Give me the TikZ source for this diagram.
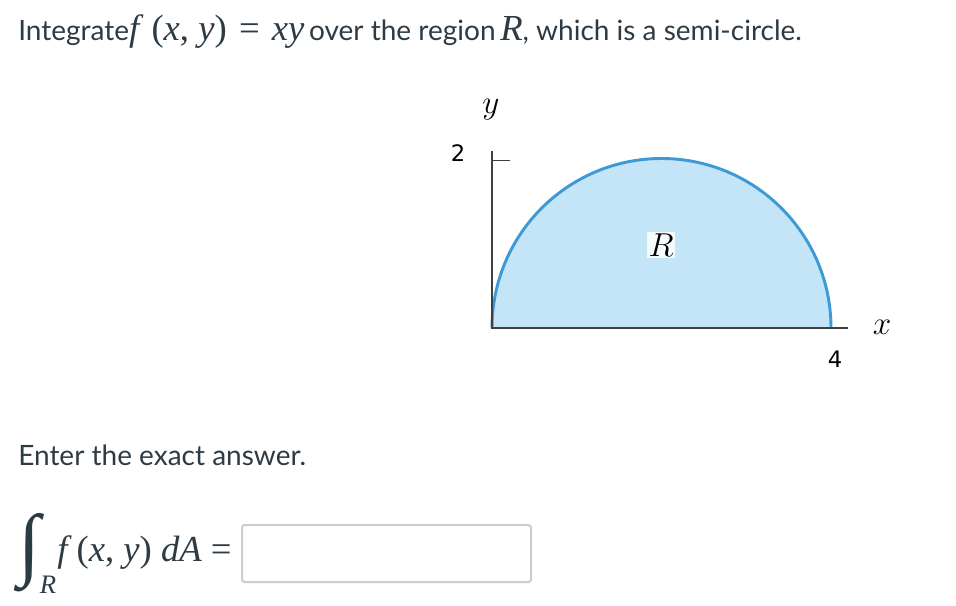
\documentclass[tikz,border=0pt]{standalone}
\usepackage{fontspec}
\setmainfont{Lato}
\newfontfamily\tmsfont{Liberation Serif}
\newfontfamily\numfont{DejaVu Sans}
\newcommand{\mathsz}{\fontsize{27.5}{30}\selectfont}
\newcommand{\tit}[1]{{\tmsfont\mathsz\itshape #1}}
\newcommand{\trm}[1]{{\tmsfont\mathsz #1}}
\definecolor{canvasgray}{HTML}{2D3B45}
\definecolor{regionfill}{HTML}{C4E4F7}
\definecolor{regionline}{HTML}{3D9AD6}
\definecolor{boxline}{HTML}{C7CDD1}

\begin{document}
\begin{tikzpicture}
    [x=0.75pt,y=-0.75pt,
    prose/.style={anchor=base west,text=canvasgray,inner sep=0pt,
      font=\fontsize{21}{25}\selectfont},
    ticklabel/.style={inner sep=0pt,font=\numfont\fontsize{17}{20}\selectfont},
    axislabel/.style={inner sep=0pt,font=\fontsize{24}{28}\selectfont},
    axis/.style={draw=black!75,line width=1.1pt}]

    \useasboundingbox (0,0) rectangle (956,606);

    \node[prose] (title) at (18,41) {Integrate\tit{f}\trm{\,\,(}\tit{x}\trm{, }\tit{y}\trm{)\,\,=\,\,}\tit{xy}\,over the region\,\tit{R}, which is a semi-circle.};

    % region and axes
    \coordinate (o) at (492,328);
    \coordinate (ytop) at (492,151);
    \coordinate (ytick) at (510,160.5);
    \coordinate (xend) at (848,328);
    \fill[regionfill] (o) arc[start angle=180,end angle=360,radius=169.5] -- cycle;
    \draw[regionline,line width=2.2pt] (o) arc[start angle=180,end angle=360,radius=169.5];
    \draw[axis] (ytop) -- (o) -- (xend);
    \draw[axis] (492,160.5) -- (ytick);

    \node[axislabel] (ylab) at (491,110) {$y$};
    \node[axislabel] (xlab) at (882,327) {$x$};
    \node[ticklabel] (two) at (458,153) {2};
    \node[ticklabel] (four) at (835,359) {4};
    \node[fill=white!85!regionfill,inner sep=1pt,font=\fontsize{29}{32}\selectfont] (rlab) at (661,245) {$R$};

    % answer line
    \node[prose] (enter) at (18,465) {Enter the exact answer.};
    \node[inner sep=0pt,text=canvasgray,font=\tmsfont\itshape\fontsize{60}{60}\selectfont] (intsign) at (29,553) {∫};
    \node[inner sep=0pt,text=canvasgray,font=\tmsfont\itshape\fontsize{20}{22}\selectfont] (intsub) at (48,585) {R};
    \node[prose] (integrand) at (57,561) {\tit{f}\trm{ (}\tit{x}\trm{, }\tit{y}\trm{) }\tit{dA}\trm{ =}};
    \draw[boxline,line width=1.5pt,rounded corners=2pt] (242,525) rectangle (531,582);
\end{tikzpicture}
\end{document}
